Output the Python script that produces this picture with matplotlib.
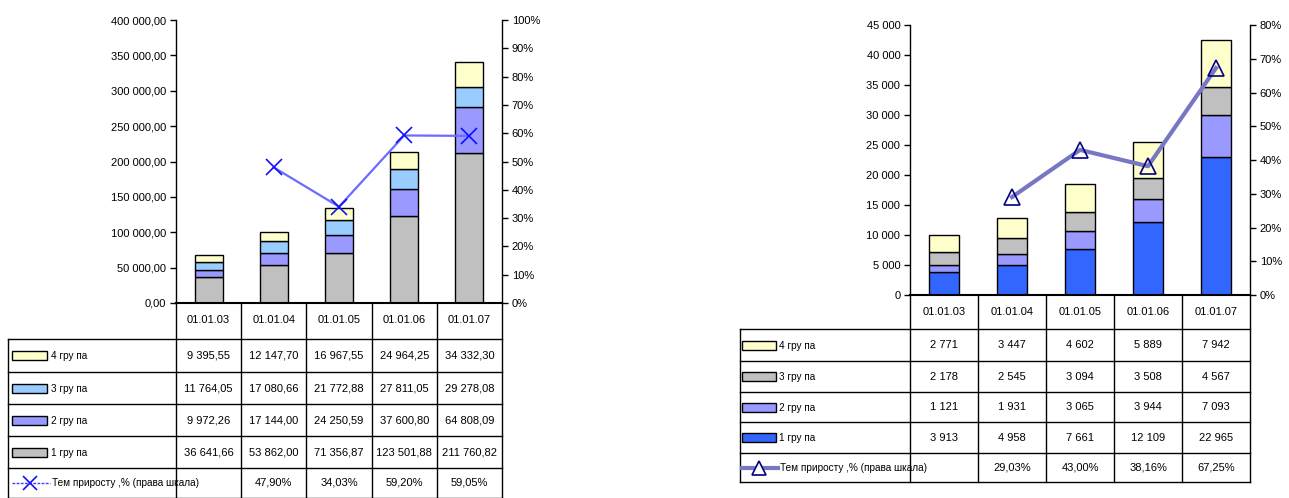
import matplotlib
matplotlib.use("Agg")
import matplotlib.pyplot as plt
from matplotlib.patches import Rectangle
from matplotlib.lines import Line2D
from matplotlib.ticker import FuncFormatter, MultipleLocator

plt.rcParams['font.family'] = ['Liberation Sans Narrow', 'Liberation Sans', 'DejaVu Sans']

# ---------------- data ----------------
categories = ["01.01.03", "01.01.04", "01.01.05", "01.01.06", "01.01.07"]

left_g1 = [36641.66, 53862.00, 71356.87, 123501.88, 211760.82]
left_g2 = [9972.26, 17144.00, 24250.59, 37600.80, 64808.09]
left_g3 = [11764.05, 17080.66, 21772.88, 27811.05, 29278.08]
left_g4 = [9395.55, 12147.70, 16967.55, 24964.25, 34332.30]
left_growth = [None, 47.90, 34.03, 59.20, 59.05]

right_g1 = [3913, 4958, 7661, 12109, 22965]
right_g2 = [1121, 1931, 3065, 3944, 7093]
right_g3 = [2178, 2545, 3094, 3508, 4567]
right_g4 = [2771, 3447, 4602, 5889, 7942]
right_growth = [None, 29.03, 43.00, 38.16, 67.25]

group_labels = ["1 гру па", "2 гру па", "3 гру па", "4 гру па"]
growth_label = "Тем приросту ,% (права шкала)"

left_colors = ["#c0c0c0", "#9999ff", "#99ccff", "#ffffcc"]
right_colors = ["#3366ff", "#9999ff", "#c0c0c0", "#ffffcc"]

W, H = 1289, 498
fig = plt.figure(figsize=(W / 100, H / 100), dpi=100)

FS = 8          # ticks / values
FS_LAB = 7.2    # legend labels in tables


def fmt_space(v, dec):
    s = f"{v:,.{dec}f}"
    return s.replace(",", " ").replace(".", ",")


def rect(x0, x1, ytop, ybot):
    return [x0 / W, (H - ybot) / H, (x1 - x0) / W, (ybot - ytop) / H]


def make_chart(pos, groups, colors, growth, ymax, ystep, ydec, pmax,
               line_kw, marker_kw):
    ax = fig.add_axes(pos)
    x = list(range(len(categories)))
    bottom = [0.0] * len(categories)
    for vals, c in zip(groups, colors):
        ax.bar(x, vals, width=0.43, bottom=bottom, color=c,
               edgecolor="black", linewidth=1.0, zorder=2)
        bottom = [b + v for b, v in zip(bottom, vals)]
    ax.set_xlim(-0.5, len(categories) - 0.5)
    ax.set_ylim(0, ymax)
    ax.yaxis.set_major_locator(MultipleLocator(ystep))
    ax.yaxis.set_major_formatter(FuncFormatter(lambda v, p: fmt_space(v, ydec)))
    ax.set_xticks([])
    for s in ["top", "right"]:
        ax.spines[s].set_visible(False)
    ax.spines["left"].set_linewidth(1.0)
    ax.spines["bottom"].set_linewidth(1.5)
    ax.tick_params(axis="y", direction="out", length=4, width=1,
                   labelsize=FS, pad=3)
    ax.patch.set_alpha(0)

    ax2 = ax.twinx()
    ax2.set_ylim(0, pmax)
    ax2.yaxis.set_major_locator(MultipleLocator(10))
    ax2.yaxis.set_major_formatter(FuncFormatter(lambda v, p: f"{v:.0f}%"))
    for s in ["top", "left", "bottom"]:
        ax2.spines[s].set_visible(False)
    ax2.spines["right"].set_linewidth(1.0)
    ax2.tick_params(axis="y", direction="out", length=4, width=1,
                    labelsize=FS, pad=3)
    xs = [i for i, g in enumerate(growth) if g is not None]
    ys = [g for g in growth if g is not None]
    ax2.plot(xs, ys, zorder=3, **line_kw)
    ax2.plot(xs, ys, linestyle="none", zorder=4, **marker_kw)
    return ax, ax2


# ---- left chart ----
L_x0, L_x1, L_top, L_bot = 176, 502, 20, 303
make_chart(rect(L_x0, L_x1, L_top, L_bot),
           [left_g1, left_g2, left_g3, left_g4], left_colors, left_growth,
           400000, 50000, 2, 100,
           dict(color="#6b6bff", linewidth=1.6),
           dict(marker="x", markersize=11, markeredgewidth=1.2, color="#1010ff"))

# ---- right chart ----
R_x0, R_x1, R_top, R_bot = 910, 1250, 25, 295
make_chart(rect(R_x0, R_x1, R_top, R_bot),
           [right_g1, right_g2, right_g3, right_g4], right_colors, right_growth,
           45000, 5000, 0, 80,
           dict(color="#7777c4", linewidth=3.0),
           dict(marker="^", markersize=11, markeredgewidth=1.2,
                markerfacecolor="none", markeredgecolor="#000080"))

# ---- overlay for data tables ----
ov = fig.add_axes([0, 0, 1, 1], zorder=-1)
ov.set_xlim(0, W)
ov.set_ylim(H, 0)
ov.axis("off")


def hline(x0, x1, y, lw=1.0):
    ov.add_line(Line2D([x0, x1], [y, y], color="black", linewidth=lw))


def vline(x, y0, y1, lw=1.0):
    ov.add_line(Line2D([x, x], [y0, y1], color="black", linewidth=lw))


def draw_table(tab_left, x0, x1, ybot_plot, row_lines, header_y,
               groups, colors, growth, dec, key_x0, key_x1, text_x,
               line_key):
    n = len(categories)
    cw = (x1 - x0) / n
    ybottom = row_lines[-1]
    vline(tab_left, row_lines[0], ybottom)
    for k in range(n + 1):
        vline(x0 + k * cw, ybot_plot, ybottom)
    for y in row_lines:
        hline(tab_left, x1, y)
    for i, c in enumerate(categories):
        ov.text(x0 + (i + 0.5) * cw, header_y, c, ha="center", va="center",
                fontsize=FS)
    order = [3, 2, 1, 0]
    for r, gi in enumerate(order):
        yc = (row_lines[r] + row_lines[r + 1]) / 2
        ov.add_patch(Rectangle((key_x0, yc - 4.5), key_x1 - key_x0, 9,
                               facecolor=colors[gi], edgecolor="black",
                               linewidth=1.0))
        ov.text(text_x, yc + 0.5, group_labels[gi], ha="left", va="center",
                fontsize=FS_LAB)
        for i, v in enumerate(groups[gi]):
            ov.text(x0 + (i + 0.5) * cw, yc, fmt_space(v, dec), ha="center",
                    va="center", fontsize=FS)
    yc = (row_lines[4] + row_lines[5]) / 2
    line_key(yc)
    ov.text(text_x + 1, yc, growth_label, ha="left", va="center",
            fontsize=FS_LAB)
    for i, g in enumerate(growth):
        if g is None:
            continue
        ov.text(x0 + (i + 0.5) * cw, yc, f"{g:.2f}%".replace(".", ","),
                ha="center", va="center", fontsize=FS)


def left_key(yc):
    ov.add_line(Line2D([12, 50], [yc, yc], color="#3b3bff", linewidth=1.0,
                       linestyle=(0, (2, 1))))
    ov.plot([30], [yc], marker="x", markersize=10, markeredgewidth=1.2,
            color="#1010ff")


def right_key(yc):
    ov.add_line(Line2D([742, 778], [yc, yc], color="#7777c4", linewidth=3.0))
    ov.plot([759], [yc], marker="^", markersize=10, markeredgewidth=1.2,
            markerfacecolor="white", markeredgecolor="#000080")


draw_table(8, L_x0, L_x1, L_bot, [339, 372, 404, 436, 468, 497.5], 320,
           [left_g1, left_g2, left_g3, left_g4], left_colors, left_growth, 2,
           12, 47, 51, left_key)
draw_table(740, R_x0, R_x1, R_bot, [329, 361, 392, 422, 453, 482], 312,
           [right_g1, right_g2, right_g3, right_g4], right_colors,
           right_growth, 0, 742, 776, 779, right_key)

fig.savefig("out.png", dpi=100)
